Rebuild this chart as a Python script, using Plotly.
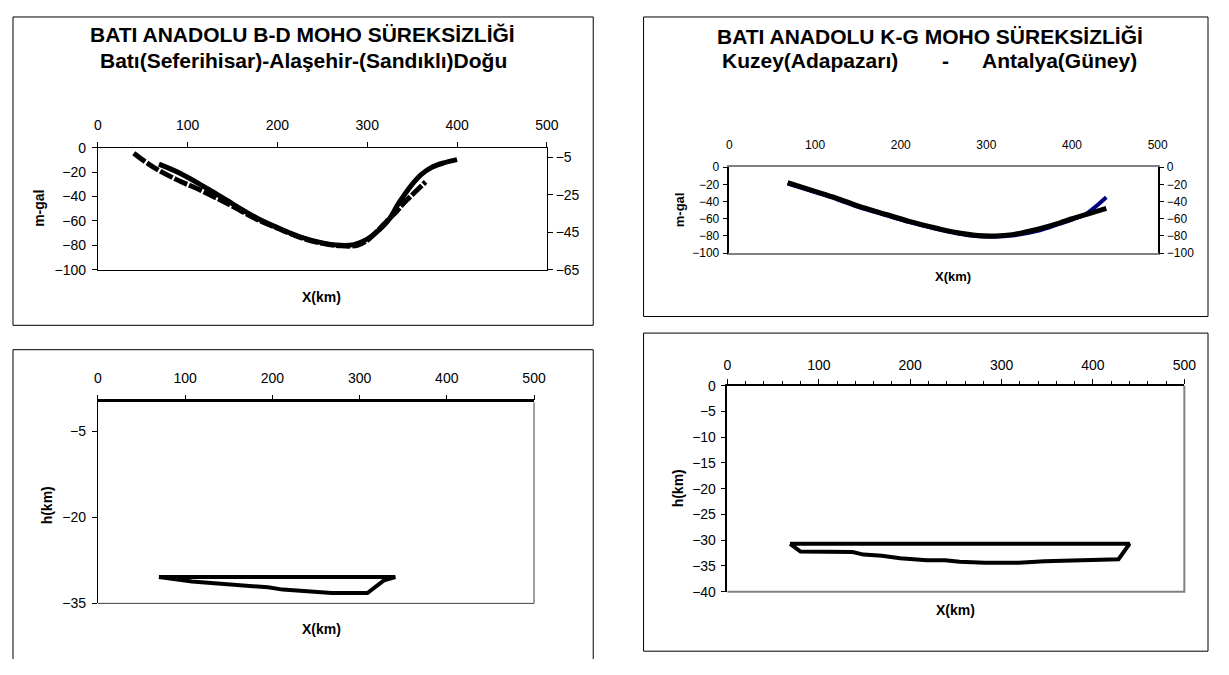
import plotly.graph_objects as go

# ---------------- data ----------------
# Top-left: B-D profile (m-gal)
bd_x_solid = [68, 93, 123, 150, 178, 200, 225, 250, 270, 285, 300, 310, 324, 335, 350, 360, 372, 385, 400]
bd_y_solid = [-13.5, -21.5, -34, -46, -58, -65.5, -73, -78, -80, -79.5, -75, -69.5, -59, -45.5, -30, -22, -16, -12.5, -9.8]
# dashed series on the right axis
bd_x_dash = [40, 60, 86, 115, 137, 150, 178, 200, 225, 250, 270, 289, 300, 313, 322, 331, 340, 346, 355, 365]
bd_y_dash = [-2.9, -9.8, -16.6, -22.8, -28, -31.2, -38.4, -42.9, -47.8, -51, -52.3, -52, -49.4, -43.6, -39, -34.8, -29.9, -27, -22.8, -18.2]

# Top-right: K-G profile (m-gal)
kg_x_blue = [68, 100, 125, 150, 183, 210, 242, 265, 290, 310, 330, 360, 385, 400, 415, 425, 440]
kg_y_blue = [-19, -29, -37, -46, -56, -64, -72, -77, -80.5, -81, -79.5, -74, -66, -61, -55, -48, -35]
kg_x_black = [68, 100, 125, 150, 183, 210, 242, 265, 290, 310, 330, 360, 385, 400, 420, 440]
kg_y_black = [-18, -28, -36, -45, -55, -63, -71, -76, -79.5, -80, -78.5, -72, -65, -60, -54, -48]

# Bottom-left: B-D depth model h(km)
bd_x_model = [70, 341, 328, 309, 268, 237, 212, 195, 151, 108, 70]
bd_h_model = [-30.4, -30.4, -31.0, -33.2, -33.2, -32.9, -32.6, -32.2, -31.7, -31.2, -30.4]

# Bottom-right: K-G depth model h(km)
kg_x_model = [68.5, 440, 428, 380, 347, 319, 282, 254, 238, 218, 189, 169, 149, 137, 80, 68.5]
kg_h_model = [-30.7, -30.7, -33.7, -33.9, -34.1, -34.4, -34.4, -34.2, -33.9, -33.9, -33.5, -33.0, -32.8, -32.3, -32.2, -30.7]

x_ticks = [0, 100, 200, 300, 400, 500]
tl_y_ticks = [0, -20, -40, -60, -80, -100]
tl_y2_ticks = [-5, -25, -45, -65]
tr_y_ticks = [0, -20, -40, -60, -80, -100]
bl_y_ticks = [-5, -20, -35]
br_y_ticks = [0, -5, -10, -15, -20, -25, -30, -35, -40]

OFF = 8
W, H = 1213, 659
FONT = "Liberation Sans, Arial, sans-serif"


def px(v):
    return min(max((v - OFF) / W, 0), 1)


def py(v):
    return min(max(1 - (v - OFF) / H, 0), 1)


fig = go.Figure()

# Top-left
fig.add_trace(go.Scatter(x=bd_x_dash, y=bd_y_dash, mode="lines", xaxis="x", yaxis="y2",
                         line=dict(color="black", width=5, dash="14px,2px", shape="spline"),
                         showlegend=False))
fig.add_trace(go.Scatter(x=bd_x_solid, y=bd_y_solid, mode="lines", xaxis="x", yaxis="y",
                         line=dict(color="black", width=5, shape="spline"), showlegend=False))
# Top-right
fig.add_trace(go.Scatter(x=kg_x_blue, y=kg_y_blue, mode="lines", xaxis="x2", yaxis="y3",
                         line=dict(color="#000080", width=4, shape="spline"), showlegend=False))
fig.add_trace(go.Scatter(x=kg_x_black, y=kg_y_black, mode="lines", xaxis="x2", yaxis="y4",
                         line=dict(color="black", width=5, shape="spline"), showlegend=False))
# Bottom-left
fig.add_trace(go.Scatter(x=bd_x_model, y=bd_h_model, mode="lines", xaxis="x3", yaxis="y5",
                         line=dict(color="black", width=4), showlegend=False))
# Bottom-right
fig.add_trace(go.Scatter(x=kg_x_model, y=kg_h_model, mode="lines", xaxis="x4", yaxis="y6",
                         line=dict(color="black", width=4), showlegend=False))

tickfont = dict(family=FONT, size=14, color="black")
tickfont_s = dict(family=FONT, size=12, color="black")

common_x = dict(range=[0, 500], tickvals=x_ticks, side="top", showgrid=False, zeroline=False,
                ticks="outside", ticklen=5, tickcolor="black", tickfont=tickfont, showline=True)

layout = dict(
    width=W, height=H, margin=dict(l=0, r=0, t=0, b=0),
    paper_bgcolor="white", plot_bgcolor="white",
    # top-left
    xaxis=dict(common_x, domain=[px(95), px(550)], anchor="y", linecolor="black", linewidth=1,
               mirror=True, ticklabelstandoff=6),
    yaxis=dict(domain=[py(268), py(143)], range=[-100, 0], tickvals=tl_y_ticks, anchor="x",
               showgrid=False, zeroline=False, ticks="outside", ticklen=5, tickcolor="black",
               showline=True, linecolor="black", linewidth=1, tickfont=tickfont, ticklabelstandoff=3),
    yaxis2=dict(range=[-65, 0], tickvals=tl_y2_ticks, overlaying="y", side="right", anchor="x",
                showgrid=False, zeroline=False, ticks="outside", ticklen=5, tickcolor="black",
                showline=True, linecolor="black", linewidth=1, tickfont=tickfont),
    # top-right
    xaxis2=dict(common_x, domain=[px(735), px(1169)], anchor="y3", linecolor="#808080", linewidth=2,
                mirror=True, ticks="", tickfont=tickfont_s, ticklabelstandoff=11),
    yaxis3=dict(domain=[py(251), py(163)], range=[-100, 0], tickvals=tr_y_ticks, anchor="x2",
                showgrid=False, zeroline=False, ticks="outside", ticklen=5, tickcolor="black",
                showline=True, linecolor="black", linewidth=1.5, tickfont=tickfont_s, ticklabelstandoff=1),
    yaxis4=dict(range=[-100, 0], tickvals=tr_y_ticks, overlaying="y3", side="right", anchor="x2",
                showgrid=False, zeroline=False, ticks="outside", ticklen=5, tickcolor="black",
                showline=True, linecolor="black", linewidth=1.5, tickfont=tickfont_s),
    # bottom-left
    xaxis3=dict(common_x, domain=[px(95), px(537)], anchor="y5", linecolor="black", linewidth=2.5,
                ticklabelstandoff=6),
    yaxis5=dict(domain=[py(610), py(404)], range=[-35, 0], tickvals=bl_y_ticks, anchor="x3",
                showgrid=False, zeroline=False, ticks="outside", ticklen=5, tickcolor="black",
                showline=True, linecolor="black", linewidth=1, tickfont=tickfont, ticklabelstandoff=3),
    # bottom-right
    xaxis4=dict(common_x, domain=[px(733), px(1196)], anchor="y6", linecolor="black", linewidth=1.5,
                ticklabelstandoff=3,
                minor=dict(dtick=20, tick0=0, ticks="outside", ticklen=3, tickcolor="black")),
    yaxis6=dict(domain=[py(598), py(387)], range=[-40, 0], tickvals=br_y_ticks, anchor="x4",
                showgrid=False, zeroline=False, ticks="outside", ticklen=5, tickcolor="black",
                showline=True, linecolor="black", linewidth=1.5, tickfont=tickfont, ticklabelstandoff=2),
)
fig.update_layout(**layout)

shapes = []
# outer chart frames (kept inside the figure so the page never overflows)
for (x0, y0, x1, y1) in [(9, 9, 597, 325), (648, 9, 1220, 316), (648, 333, 1220, 659)]:
    shapes.append(dict(type="rect", xref="paper", yref="paper", x0=px(x0), x1=px(x1), y0=py(y1), y1=py(y0),
                       line=dict(color="black", width=1), fillcolor="rgba(0,0,0,0)", layer="below"))
# bottom-left frame, open at the bottom (runs off the picture)
shapes.append(dict(type="path", xref="paper", yref="paper",
                   path=f"M {px(9)} {py(667)} L {px(9)} {py(350)} L {px(597)} {py(350)} L {px(597)} {py(667)}",
                   line=dict(color="black", width=1), layer="below"))
shapes.append(dict(type="path", xref="paper", yref="paper",
                   path=f"M {px(537)} {py(404)} L {px(537)} {py(610)} L {px(95)} {py(610)}",
                   line=dict(color="#404040", width=1)))
shapes.append(dict(type="path", xref="paper", yref="paper",
                   path=f"M {px(1196)} {py(387)} L {px(1196)} {py(598)} L {px(733)} {py(598)}",
                   line=dict(color="#808080", width=2)))
fig.update_layout(shapes=shapes)

ann = []


def text(x, y, s, size, bold=True, angle=0):
    ann.append(dict(xref="paper", yref="paper", x=px(x), y=py(y), text=(f"<b>{s}</b>" if bold else s),
                    showarrow=False, xanchor="center", yanchor="middle", textangle=angle,
                    font=dict(family=FONT, size=size, color="black")))


text(302, 27, "BATI ANADOLU B-D MOHO SÜREKSİZLİĞİ", 21)
text(303, 54, "Batı(Seferihisar)-Alaşehir-(Sandıklı)Doğu", 21)
text(322, 296, "X(km)", 14)
text(36, 205, "m-gal", 14, angle=-90)

text(938, 29, "BATI ANADOLU K-G MOHO SÜREKSİZLİĞİ", 21)
text(817, 54, "Kuzey(Adapazarı)", 21)
text(954, 54, "-", 21)
text(1070, 54, "Antalya(Güney)", 21)
text(962, 275, "X(km)", 13)
text(684, 207, "m-gal", 13, angle=-90)

text(322, 636, "X(km)", 14)
text(43, 510, "h(km)", 14, angle=-90)

text(964, 617, "X(km)", 14)
text(683, 492, "h(km)", 14, angle=-90)

fig.update_layout(annotations=ann)

fig.write_html("out.html")
